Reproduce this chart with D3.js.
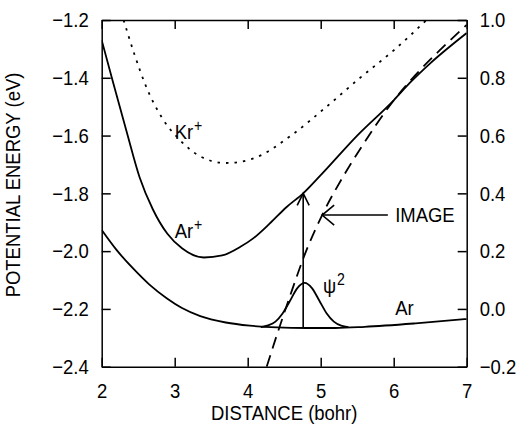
<!DOCTYPE html>
<html>
<head>
<meta charset="utf-8">
<script src="https://cdn.jsdelivr.net/npm/d3@7"></script>
<style>
body { margin: 0; background: #fff; }
svg text { font-family: "Liberation Sans", Arial, sans-serif; font-size: 21px; fill: #000; }
</style>
</head>
<body>
<div id="chart"></div>
<script>
// values: distance in bohr, energy in eV (left axis)
var arPlusX = [2.0, 2.16, 2.34, 2.52, 2.70, 2.90, 3.10, 3.40, 3.65, 3.90, 4.08, 4.30, 4.53, 4.76, 5.0, 5.5, 6.0, 6.22, 6.5, 7.0];
var arPlusE = [-1.27, -1.42, -1.585, -1.745, -1.855, -1.94, -1.99, -2.022, -2.015, -1.985, -1.955, -1.905, -1.848, -1.80, -1.737, -1.600, -1.478, -1.418, -1.35, -1.245];

var krPlusX = [2.3, 2.45, 2.6, 2.83, 3.07, 3.35, 3.7, 4.07, 4.62, 5.08, 5.54, 6.0, 6.45];
var krPlusE = [-1.20, -1.32, -1.425, -1.54, -1.615, -1.672, -1.695, -1.68, -1.595, -1.50, -1.40, -1.305, -1.20];

var arX = [2.0, 2.2, 2.43, 2.65, 2.89, 3.1, 3.35, 3.7, 4.03, 4.4, 4.8, 5.2, 5.6, 6.3, 7.0];
var arE = [-1.927, -1.995, -2.06, -2.115, -2.163, -2.197, -2.225, -2.247, -2.258, -2.264, -2.266, -2.266, -2.262, -2.25, -2.235];

var imageX = [4.26, 4.40, 4.58, 4.80, 5.02, 5.30, 5.57, 5.95, 6.3, 6.65, 7.0];
var imageE = [-2.40, -2.29, -2.155, -2.00, -1.875, -1.745, -1.635, -1.495, -1.39, -1.30, -1.217];

var psiX = [4.18, 4.28, 4.38, 4.48, 4.58, 4.68, 4.78, 4.88, 4.98, 5.08, 5.18, 5.28, 5.38];
var psiE = [-2.263, -2.257, -2.244, -2.215, -2.172, -2.128, -2.110, -2.128, -2.171, -2.215, -2.244, -2.258, -2.263];

// vertical transition at the centre of psi^2, and the IMAGE pointer
var transitionX = 4.76, transitionFrom = -2.266, transitionTo = -1.80;
var pointerFromX = 5.92, pointerToX = 5.02, pointerE = -1.875;

// ticks
var xTicks = [2, 3, 4, 5, 6, 7];
var yTicks = [-2.4, -2.2, -2.0, -1.8, -1.6, -1.4, -1.2];
var y2Ticks = [-0.2, 0.0, 0.2, 0.4, 0.6, 0.8, 1.0];

// curve labels (data coordinates of the text baseline start)
var labelText = ["Kr", "Ar", "Ar", "\u03c8", "IMAGE"];
var labelSup = ["+", "+", "", "2", ""];
var labelX = [3.0, 3.0, 6.02, 5.03, 6.02];
var labelE = [-1.612, -1.955, -2.221, -2.145, -1.90];

var W = 525, H = 425;
var margin = {top: 20, right: 58.3, bottom: 58.3, left: 101.7};
var w = W - margin.left - margin.right;
var h = H - margin.top - margin.bottom;

var svg = d3.select("#chart").append("svg")
    .attr("width", W)
    .attr("height", H);

var defs = svg.append("defs");
defs.append("clipPath").attr("id", "plot")
    .append("rect").attr("width", w).attr("height", h);

// open arrow heads
function arrowMarker(id, len, half) {
    defs.append("marker")
        .attr("id", id)
        .attr("markerUnits", "userSpaceOnUse")
        .attr("viewBox", (-len - 2) + " " + (-half - 2) + " " + (len + 4) + " " + (2 * half + 4))
        .attr("refX", 0).attr("refY", 0)
        .attr("markerWidth", len + 4).attr("markerHeight", 2 * half + 4)
        .attr("orient", "auto")
        .append("path")
        .attr("d", "M" + (-len) + "," + (-half) + "L0,0L" + (-len) + "," + half)
        .attr("fill", "none")
        .attr("stroke", "#000")
        .attr("stroke-width", 1.6);
}
arrowMarker("headUp", 12, 6);
arrowMarker("headLeft", 12, 10);

var g = svg.append("g").attr("transform", "translate(" + margin.left + "," + margin.top + ")");

var x = d3.scaleLinear().domain([2, 7]).range([0, w]);
var y = d3.scaleLinear().domain([-2.4, -1.2]).range([h, 0]);
var y2 = d3.scaleLinear().domain([-0.2, 1.0]).range([h, 0]);

// axes, ticks pointing inward, forming the frame
g.append("g").attr("class", "axis")
    .attr("transform", "translate(0," + h + ")")
    .call(d3.axisBottom(x).tickValues(xTicks).tickSizeInner(-9).tickSizeOuter(0).tickPadding(16).tickFormat(d3.format("d")));
g.append("g").attr("class", "axis")
    .call(d3.axisTop(x).tickValues(xTicks).tickSizeInner(-9).tickSizeOuter(0).tickFormat(""));
g.append("g").attr("class", "axis")
    .call(d3.axisLeft(y).tickValues(yTicks).tickSizeInner(-9).tickSizeOuter(0).tickPadding(13).tickFormat(d3.format(".1f")));
g.append("g").attr("class", "axis")
    .attr("transform", "translate(" + w + ",0)")
    .call(d3.axisRight(y2).tickValues(y2Ticks).tickSizeInner(-9).tickSizeOuter(0).tickPadding(13).tickFormat(d3.format(".1f")));

g.selectAll(".axis path, .axis line").attr("stroke", "#000").attr("stroke-width", 1.5);
g.selectAll(".axis").attr("font-size", null).attr("font-family", null);

// axis titles
svg.append("text")
    .attr("x", margin.left + w / 2)
    .attr("y", 420)
    .attr("text-anchor", "middle")
    .text("DISTANCE (bohr)");
svg.append("text")
    .attr("transform", "translate(20," + 185 + ") rotate(-90)")
    .attr("text-anchor", "middle")
    .text("POTENTIAL ENERGY (eV)");

// curves
var curves = g.append("g").attr("clip-path", "url(#plot)");
function drawCurve(xs, es, dash) {
    var pts = xs.map(function(d, i) { return [d, es[i]]; });
    var line = d3.line()
        .x(function(d) { return x(d[0]); })
        .y(function(d) { return y(d[1]); })
        .curve(d3.curveMonotoneX);
    curves.append("path")
        .datum(pts)
        .attr("d", line)
        .attr("fill", "none")
        .attr("stroke", "#000")
        .attr("stroke-width", 1.8)
        .attr("stroke-dasharray", dash);
}
drawCurve(arX, arE, null);
drawCurve(arPlusX, arPlusE, null);
drawCurve(krPlusX, krPlusE, "2.5,6");
drawCurve(imageX, imageE, "12,7");
drawCurve(psiX, psiE, null);

// transition arrow and IMAGE pointer
g.append("line")
    .attr("x1", x(transitionX)).attr("y1", y(transitionFrom))
    .attr("x2", x(transitionX)).attr("y2", y(transitionTo))
    .attr("stroke", "#000").attr("stroke-width", 1.6)
    .attr("marker-end", "url(#headUp)");
g.append("line")
    .attr("x1", x(pointerFromX)).attr("y1", y(pointerE))
    .attr("x2", x(pointerToX)).attr("y2", y(pointerE))
    .attr("stroke", "#000").attr("stroke-width", 1.6)
    .attr("marker-end", "url(#headLeft)");

// curve labels with superscripts
labelText.forEach(function(t, i) {
    var txt = g.append("text")
        .attr("x", x(labelX[i]))
        .attr("y", y(labelE[i]));
    txt.append("tspan").text(t);
    if (labelSup[i]) {
        txt.append("tspan")
            .attr("dy", -8)
            .attr("dx", 1)
            .style("font-size", "16px")
            .text(labelSup[i]);
    }
});

// the lettering in the figure is narrower than Liberation Sans
var squeeze = 0.88;
svg.selectAll("text").each(function() {
    var t = d3.select(this);
    var x0 = +t.attr("x") || 0;
    var tr = t.attr("transform") || "";
    t.attr("x", x0 / squeeze).attr("transform", tr + " scale(" + squeeze + ",1)");
});
</script>
</body>
</html>
